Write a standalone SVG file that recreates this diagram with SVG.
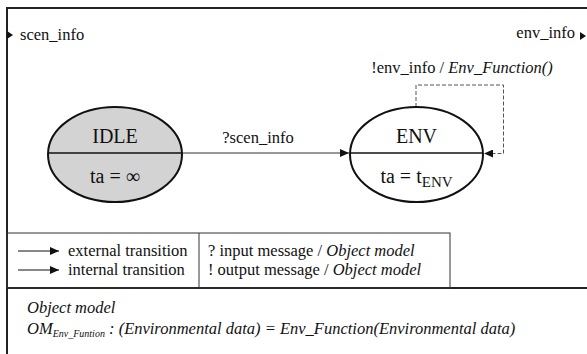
<svg xmlns="http://www.w3.org/2000/svg" width="587" height="354" viewBox="0 0 587 354">
<style>
text{font-family:'Liberation Serif','DejaVu Serif',serif;fill:#111}
.t{font-size:16.5px}
.n{font-size:20px;text-anchor:middle}
.i{font-style:italic}
.frame{stroke:#222;stroke-width:2;fill:none}
.thin{stroke:#333;stroke-width:1;fill:none}
.st{stroke:#111;stroke-width:2}
</style>
<defs>
<marker id="ah" markerWidth="10" markerHeight="8" refX="9" refY="4" orient="auto" markerUnits="userSpaceOnUse">
<path d="M0,0 L9,4 L0,8 Z" fill="#111"/>
</marker>
</defs>
<rect width="587" height="354" fill="#fff"/>
<g id="frame">
<path class="frame" d="M7,354 V8 H588"/>
<line class="frame" x1="7" y1="288" x2="588" y2="288"/>
<rect class="thin" x="7" y="233" width="443" height="55"/>
<line class="thin" x1="199" y1="233" x2="199" y2="288"/>
</g>
<g id="ports">
<path d="M7,31 L13,35 L7,39 Z" fill="#111"/>
<text class="t" x="20" y="40">scen_info</text>
<text class="t" x="575" y="38" text-anchor="end">env_info</text>
<path d="M580,32 L586,36 L580,40 Z" fill="#111"/>
</g>
<g id="connectors">
<line x1="182" y1="153" x2="349" y2="153" stroke="#333" stroke-width="1.2" marker-end="url(#ah)"/>
<text class="t" x="258" y="143" text-anchor="middle">?scen_info</text>
<path d="M416,107 V85 H503.5 V153.5 H484" fill="none" stroke="#555" stroke-width="1" stroke-dasharray="4,2" marker-end="url(#ah)"/>
<text class="t" x="462" y="73" text-anchor="middle">!env_info / <tspan class="i">Env_Function()</tspan></text>
</g>
<g id="IDLE">
<ellipse cx="115" cy="154.5" rx="67" ry="47.5" fill="#d3d3d3" class="st"/>
<line x1="48" y1="153" x2="182" y2="153" stroke="#111" stroke-width="1.5"/>
<text class="n" x="115" y="143">IDLE</text>
<text class="n" x="115" y="183">ta = ∞</text>
</g>
<g id="ENV">
<ellipse cx="416.5" cy="154.5" rx="66.5" ry="47.5" fill="#fff" class="st"/>
<line x1="350" y1="153" x2="483" y2="153" stroke="#111" stroke-width="1.5"/>
<text class="n" x="416.5" y="143">ENV</text>
<text class="n" x="416.5" y="183">ta = t<tspan font-size="15" dy="4">ENV</tspan></text>
</g>
<g id="legend">
<line x1="18" y1="251" x2="59" y2="251" stroke="#111" stroke-width="1.2" marker-end="url(#ah)"/>
<line x1="18" y1="270" x2="59" y2="270" stroke="#111" stroke-width="1.2" marker-end="url(#ah)"/>
<text class="t" x="68" y="256">external transition</text>
<text class="t" x="68" y="275">internal transition</text>
<text class="t" x="208" y="256">? input message / <tspan class="i">Object model</tspan></text>
<text class="t" x="208" y="275">! output message / <tspan class="i">Object model</tspan></text>
</g>
<g id="objmodel">
<text class="t i" x="27" y="313">Object model</text>
<text class="t i" x="27" y="334">OM<tspan font-size="10" dy="3">Env_Funtion</tspan><tspan dy="-3"> : (Environmental data) = Env_Function(Environmental data)</tspan></text>
</g>
</svg>
